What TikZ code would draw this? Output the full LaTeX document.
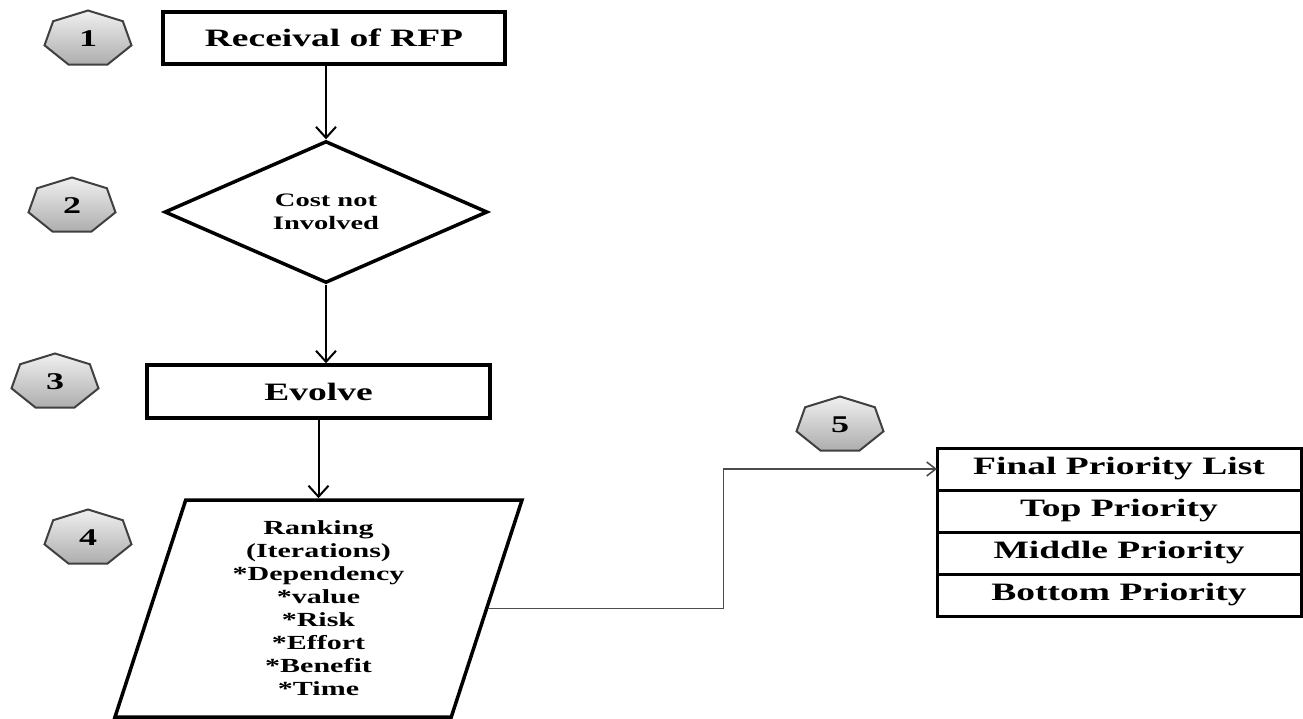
\documentclass[tikz,border=0pt]{standalone}
\usepackage{fontspec}
\setmainfont{Liberation Serif}[FakeStretch=1.5]
\usetikzlibrary{positioning,shapes.geometric,arrows.meta}

\begin{document}
\begin{tikzpicture}[x=1pt,y=-1pt,
    stepbox/.style={draw,line width=3.5pt,minimum width=342,minimum height=52,font=\fontsize{25}{28}\selectfont\bfseries},
    cell/.style={draw,line width=3pt,minimum width=364,minimum height=42,outer sep=0pt,font=\fontsize{25}{28}\selectfont\bfseries},
    hept/.style={draw=black!75,line width=2pt,top color=black!6,bottom color=black!32},
    num/.style={font=\fontsize{24}{26}\selectfont\bfseries},
    arr/.style={line width=2pt,-{Straight Barb[length=11pt,width=20pt,line width=2pt]}},
    link/.style={draw=black!70,line width=1.6pt,-{Straight Barb[length=9pt,width=14pt]}}]
            \useasboundingbox (0,0) rectangle (1303,719);
            \foreach \k/\p in {1/{88,39},2/{72,206},3/{55,382},4/{88,538},5/{840,425}} {
                \begin{scope}[shift={(\p)}]
                    \draw[hept] (270:44.6 and 28.5) \foreach \a in {1,...,6} {-- (270+\a*360/7:44.6 and 28.5)} -- cycle;
                \end{scope}
                \node[num] (n\k) at (\p) {\k};
            }
            \node[stepbox] (rfp) at (334,38) {Receival of RFP};
            \node[draw,diamond,line width=3.5pt,minimum width=323,minimum height=139,inner sep=0pt,align=center,
                font=\fontsize{19}{23}\selectfont\bfseries] (cost) at (326,212) {Cost not\\Involved};
            \node[stepbox,minimum width=343,minimum height=53] (evolve) at (318.5,391.5) {Evolve};
            \node[draw,trapezium,trapezium left angle=68,trapezium right angle=112,trapezium stretches body,
                line width=3.5pt,minimum width=407,minimum height=217,inner sep=0pt,align=center,
                font=\fontsize{20}{23}\selectfont\bfseries] (rank) at (318.5,608.5)
                {Ranking\\(Iterations)\\*Dependency\\*value\\*Risk\\*Effort\\*Benefit\\*Time};
            \node[cell] (fpl) at (1119,469) {Final Priority List};
            \node[cell,below=0pt of fpl] (top) {Top Priority};
            \node[cell,below=0pt of top] (mid) {Middle Priority};
            \node[cell,below=0pt of mid] (bot) {Bottom Priority};
            \draw[arr] (rfp.south -| cost.north) -- (cost.north);
            \draw[arr] (cost.south) -- (cost.south |- evolve.north);
            \draw[arr] (evolve.south) -- (evolve.south |- rank.north);
            \draw[link] (rank.east) -- ++(235,0) |- (fpl.west);
        \end{tikzpicture}
\end{document}
